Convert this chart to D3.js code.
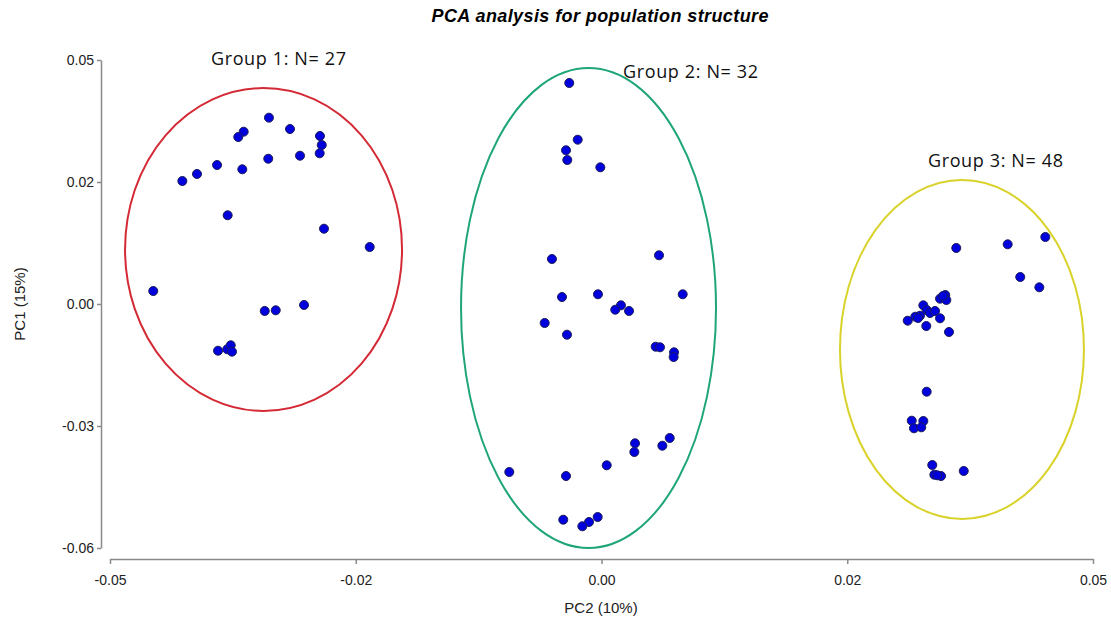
<!DOCTYPE html>
<html>
<head>
<meta charset="utf-8">
<script src="https://cdn.jsdelivr.net/npm/d3@7"></script>
<style>
  body { margin: 0; background: #fff; }
  svg { display: block; }
</style>
</head>
<body>
<script>
  // PC2 (x) / PC1 (y) scores, one list per group
  var group1 = [
    [-0.03383, 0.03818], [-0.03640, 0.03531], [-0.03695, 0.03422], [-0.03169, 0.03586],
    [-0.02864, 0.03443], [-0.02846, 0.03258], [-0.02867, 0.03088], [-0.03067, 0.03039],
    [-0.03390, 0.02977], [-0.03654, 0.02760], [-0.03911, 0.02848], [-0.04115, 0.02664],
    [-0.04264, 0.02520], [-0.03803, 0.01818], [-0.02823, 0.01543], [-0.02358, 0.01168],
    [-0.04560, 0.00266], [-0.03426, -0.00143], [-0.03314, -0.00129], [-0.03026, -0.00020],
    [-0.03901, -0.00957], [-0.03807, -0.00928], [-0.03772, -0.00846], [-0.03759, -0.00977]
  ];
  var group2 = [
    [-0.00328, 0.04529], [-0.00242, 0.03367], [-0.00361, 0.03150], [-0.00348, 0.02951],
    [-0.00012, 0.02801], [-0.00504, 0.00922], [0.00585, 0.00998], [-0.00402, 0.00143],
    [-0.00036, 0.00199], [0.00198, -0.00027], [0.00140, -0.00117], [0.00280, -0.00143],
    [0.00826, 0.00199], [-0.00578, -0.00389], [-0.00351, -0.00629], [0.00551, -0.00875],
    [0.00595, -0.00887], [0.00738, -0.00990], [0.00734, -0.01086], [0.00694, -0.02746],
    [0.00619, -0.02904], [0.00341, -0.02855], [0.00334, -0.03033], [0.00053, -0.03305],
    [-0.00938, -0.03443], [-0.00361, -0.03525], [-0.00389, -0.04420], [-0.00039, -0.04365],
    [-0.00127, -0.04467], [-0.00195, -0.04555]
  ];
  var group3 = [
    [0.03609, 0.01148], [0.04132, 0.01223], [0.04515, 0.01373], [0.04260, 0.00553],
    [0.04454, 0.00342], [0.03497, 0.00184], [0.03444, 0.00109], [0.03508, 0.00082],
    [0.03474, 0.00164], [0.03274, -0.00027], [0.03308, -0.00123], [0.03342, -0.00184],
    [0.03393, -0.00143], [0.03240, -0.00240], [0.03192, -0.00260], [0.03220, -0.00287],
    [0.03115, -0.00342], [0.03444, -0.00293], [0.03304, -0.00451], [0.03535, -0.00574],
    [0.03308, -0.01797], [0.03156, -0.02391], [0.03274, -0.02398], [0.03179, -0.02547],
    [0.03253, -0.02527], [0.03365, -0.03299], [0.03386, -0.03498], [0.03454, -0.03525],
    [0.03416, -0.03510], [0.03685, -0.03422]
  ];

  var groupNames = ['Group 1: N= 27', 'Group 2: N= 32', 'Group 3: N= 48'];
  var groupColors = ['#d42a36', '#1fa57a', '#d9d22a'];
  // ellipse centre x, centre y, radius x, radius y (data units)
  var ellipses = [
    [-0.03438, 0.01117, 0.01409, 0.03309],
    [-0.00132, -0.00082, 0.01297, 0.04918],
    [0.03667, -0.00932, 0.01241, 0.03473]
  ];
  // where each group label sits (data units)
  var labelPos = [[-0.03973, 0.04898], [0.00219, 0.04631], [0.03321, 0.02807]];

  var xTicks = [-0.05, -0.025, 0, 0.025, 0.05];
  var xTickLabels = ['-0.05', '-0.02', '0.00', '0.02', '0.05'];
  var yTicks = [0.05, 0.025, 0, -0.025, -0.05];
  var yTickLabels = ['0.05', '0.02', '0.00', '-0.03', '-0.06'];

  var width = 1111, height = 622;

  var svg = d3.select('body').append('svg').attr('width', width).attr('height', height);

  var x = d3.scaleLinear().domain([-0.05, 0.05]).range([110, 1093]);
  var y = d3.scaleLinear().domain([-0.05, 0.05]).range([548, 60]);

  var axisColor = '#8a8a8a';

  var xAxis = svg.append('g')
    .attr('transform', 'translate(0,559)')
    .call(d3.axisBottom(x).tickValues(xTicks).tickSize(5).tickSizeOuter(0)
      .tickFormat(function (d, i) { return xTickLabels[i]; }));

  var yAxis = svg.append('g')
    .attr('transform', 'translate(101,0)')
    .call(d3.axisLeft(y).tickValues(yTicks).tickSize(4).tickSizeOuter(0)
      .tickFormat(function (d, i) { return yTickLabels[i]; }));

  [xAxis, yAxis].forEach(function (g) {
    g.selectAll('path, line').attr('stroke', axisColor).attr('stroke-width', 1.5);
    g.selectAll('text')
      .attr('fill', '#222')
      .style('font-family', '"Liberation Sans", Arial, sans-serif')
      .style('font-size', '14px');
  });
  xAxis.selectAll('text').attr('dy', '1.25em');
  yAxis.selectAll('text').attr('x', -7);

  // ellipses
  svg.selectAll('ellipse')
    .data(ellipses)
    .enter()
    .append('ellipse')
    .attr('cx', function (d) { return x(d[0]); })
    .attr('cy', function (d) { return y(d[1]); })
    .attr('rx', function (d) { return x(d[0] + d[2]) - x(d[0]); })
    .attr('ry', function (d) { return y(d[1]) - y(d[1] + d[3]); })
    .attr('fill', 'none')
    .attr('stroke', function (d, i) { return groupColors[i]; })
    .attr('stroke-width', 2);

  // points
  var allPoints = group1.concat(group2, group3);
  svg.selectAll('circle')
    .data(allPoints)
    .enter()
    .append('circle')
    .attr('cx', function (d) { return x(d[0]); })
    .attr('cy', function (d) { return y(d[1]); })
    .attr('r', 4.5)
    .attr('fill', '#0000dd')
    .attr('stroke', '#1c1c5a')
    .attr('stroke-width', 1);

  // group labels
  svg.selectAll('text.group')
    .data(groupNames)
    .enter()
    .append('text')
    .attr('class', 'group')
    .attr('x', function (d, i) { return x(labelPos[i][0]); })
    .attr('y', function (d, i) { return y(labelPos[i][1]); })
    .attr('textLength', 135)
    .style('font-family', '"Open Sans", sans-serif')
    .style('font-size', '18px')
    .attr('fill', '#111')
    .text(function (d) { return d; });

  // title + axis titles
  svg.append('text')
    .attr('x', 600).attr('y', 22)
    .attr('text-anchor', 'middle')
    .style('font-family', '"Liberation Sans", Arial, sans-serif')
    .style('font-size', '18px')
    .style('font-weight', 'bold')
    .style('font-style', 'italic')
    .attr('textLength', 337)
    .text('PCA analysis for population structure');

  svg.append('text')
    .attr('x', 601).attr('y', 613)
    .attr('text-anchor', 'middle')
    .style('font-family', '"Liberation Sans", Arial, sans-serif')
    .style('font-size', '15px')
    .attr('fill', '#222')
    .text('PC2 (10%)');

  svg.append('text')
    .attr('transform', 'translate(25,304) rotate(-90)')
    .attr('text-anchor', 'middle')
    .style('font-family', '"Liberation Sans", Arial, sans-serif')
    .style('font-size', '15px')
    .attr('fill', '#222')
    .text('PC1 (15%)');
</script>
</body>
</html>
